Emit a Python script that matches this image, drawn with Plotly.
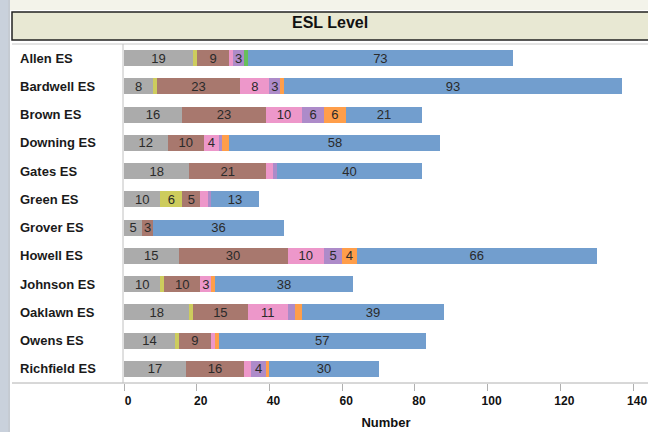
import plotly.graph_objects as go

schools = ["Allen ES", "Bardwell ES", "Brown ES", "Downing ES", "Gates ES", "Green ES",
           "Grover ES", "Howell ES", "Johnson ES", "Oaklawn ES", "Owens ES", "Richfield ES"]

level_names = ["Level 1", "Level 2", "Level 3", "Level 4", "Level 5", "Level 6", "Level 7", "Level 8"]

level_1 = [19, 8, 16, 12, 18, 10, 5, 15, 10, 18, 14, 17]   # gray
level_2 = [1, 1, 0, 0, 0, 6, 0, 0, 1, 1, 1, 0]             # yellow
level_3 = [9, 23, 23, 10, 21, 5, 3, 30, 10, 15, 9, 16]     # brown
level_4 = [1, 8, 10, 4, 2, 2, 0, 10, 3, 11, 1, 2]          # pink
level_5 = [3, 3, 6, 1, 1, 1, 0, 5, 0, 2, 0, 4]             # purple
level_6 = [0, 1, 6, 2, 0, 0, 0, 4, 1, 2, 1, 1]             # orange
level_7 = [1, 0, 0, 0, 0, 0, 0, 0, 0, 0, 0, 0]             # green
level_8 = [73, 93, 21, 58, 40, 13, 36, 66, 38, 39, 57, 30]  # blue

series = [level_1, level_2, level_3, level_4, level_5, level_6, level_7, level_8]
colors = ["#ababab", "#cdcc5d", "#a8786e", "#ed97ca", "#ad8bc9", "#ff9e4a", "#67bf5c", "#729ece"]

x_ticks = [0, 20, 40, 60, 80, 100, 120, 140]

fig = go.Figure()
for name, vals, col in zip(level_names, series, colors):
    fig.add_trace(go.Bar(
        y=schools, x=vals, name=name, orientation="h",
        marker=dict(color=col, line=dict(width=0)),
        text=[str(v) if v >= 3 else "" for v in vals],
        textposition="inside", insidetextanchor="middle", textangle=0,
        textfont=dict(family="Arial", size=13, color="#2a2a2a"),
        hoverinfo="x+y+name", showlegend=False,
    ))

W, H = 648, 432
L, R, T, B = 124, 0, 44, 49
pw, ph = W - L - R, H - T - B

def px(x):
    return (x - L) / pw

def py(y):
    return (H - B - y) / ph

shapes = [
    # window chrome left strip
    dict(type="rect", xref="paper", yref="paper", x0=px(0), x1=px(8), y0=py(432), y1=py(0),
         fillcolor="#c9d1dc", line=dict(width=0), layer="below"),
    dict(type="line", xref="paper", yref="paper", x0=px(9), x1=px(9), y0=py(432), y1=py(0),
         line=dict(color="#8a96a6", width=1)),
    # top strip
    dict(type="rect", xref="paper", yref="paper", x0=px(10), x1=px(648), y0=py(10), y1=py(0),
         fillcolor="#f3f3ea", line=dict(width=0), layer="below"),
    # title box
    dict(type="rect", xref="paper", yref="paper", x0=px(12), x1=px(652), y0=py(40), y1=py(12),
         fillcolor="#e8e8d3", line=dict(color="#222222", width=1.5)),
    # header divider line
    dict(type="line", xref="paper", yref="paper", x0=px(12), x1=px(648), y0=py(44), y1=py(44),
         line=dict(color="#c8c8c8", width=1)),
    # bottom axis line
    dict(type="line", xref="paper", yref="paper", x0=px(12), x1=px(648), y0=py(383), y1=py(383),
         line=dict(color="#b0b0b0", width=1)),
    # left divider line
    dict(type="line", xref="paper", yref="paper", x0=px(123), x1=px(123), y0=py(44), y1=py(383),
         line=dict(color="#c0c0c0", width=1)),
]

annotations = [
    dict(text="<b>ESL Level</b>", xref="paper", yref="paper", x=px(330), y=py(23),
         xanchor="center", yanchor="middle", showarrow=False,
         font=dict(family="Arial", size=16, color="#111111")),
]
for s in schools:
    annotations.append(dict(text="<b>" + s + "</b>", xref="paper", yref="y", x=px(18), y=s,
                            xanchor="left", yanchor="middle", showarrow=False,
                            font=dict(family="Arial", size=13, color="#1a1a1a")))

fig.update_layout(
    width=W, height=H, barmode="stack", bargap=0.43,
    margin=dict(l=L, r=R, t=T, b=B, pad=0, autoexpand=False),
    paper_bgcolor="white", plot_bgcolor="white",
    uniformtext=dict(minsize=13, mode="show"),
    xaxis=dict(range=[0, 144.1], tickvals=x_ticks, ticktext=[str(v) for v in x_ticks],
               automargin=False, ticklabelshift=4,
               showgrid=False, zeroline=False, showline=False,
               ticks="outside", ticklen=7, tickcolor="#b0b0b0",
               tickfont=dict(family="Arial", size=12, color="#111111", weight="bold"),
               title=dict(text="<b>Number</b>", font=dict(family="Arial", size=13, color="#111111"),
                          standoff=10)),
    yaxis=dict(categoryorder="array", categoryarray=schools, autorange="reversed",
               automargin=False,
               showticklabels=False, showgrid=False, zeroline=False, ticks=""),
    shapes=shapes, annotations=annotations,
)

fig.write_html("out.html", config={"displayModeBar": False},
               post_script="document.body.style.margin='0';document.body.style.overflow='hidden';")
